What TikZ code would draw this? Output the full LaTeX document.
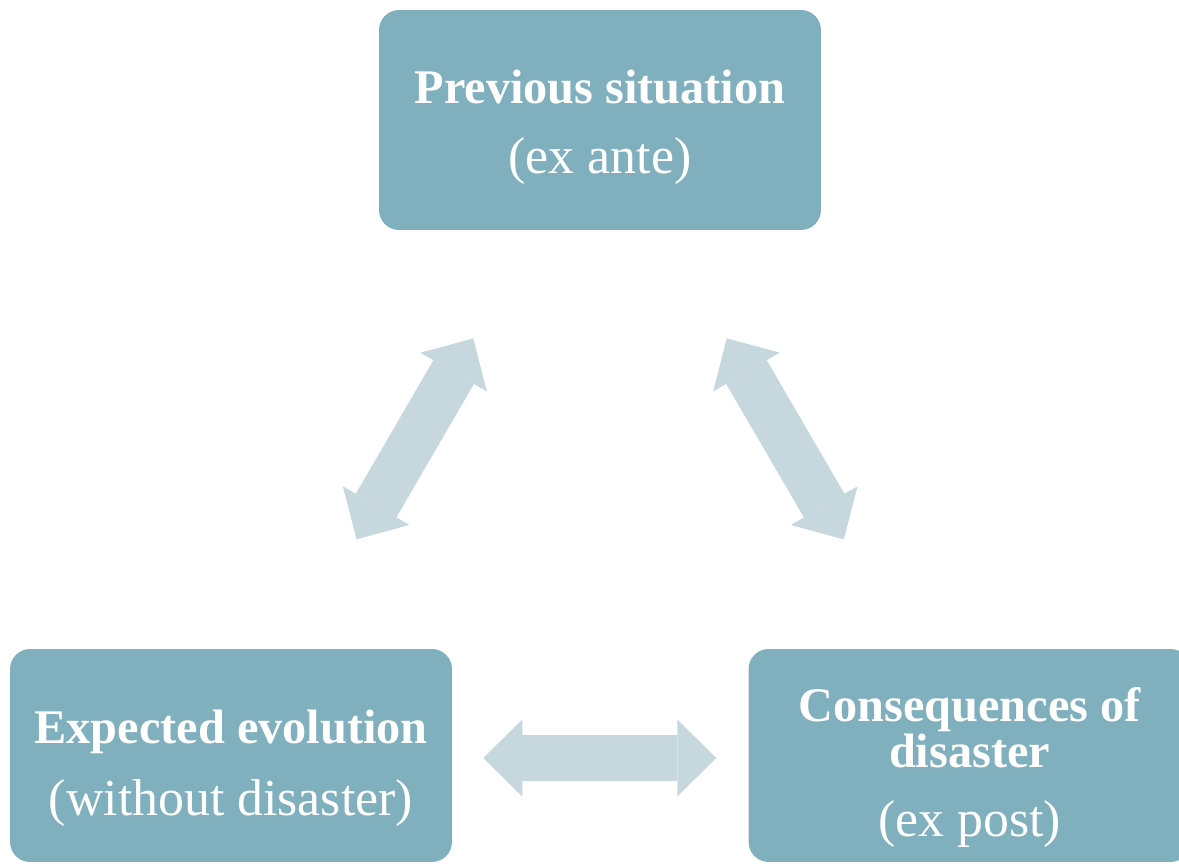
\documentclass[tikz,border=0pt]{standalone}
\usepackage{fontspec}
\setmainfont{Liberation Serif}
\usetikzlibrary{arrows.meta,positioning,calc}
\definecolor{boxblue}{RGB}{128,175,189}
\definecolor{arrowgrey}{RGB}{199,215,222}
\newcommand{\subline}{\fontsize{29.5}{22.5}\selectfont\mdseries}
\newcommand{\lift}[1]{\rule{0pt}{#1}}
\tikzset{
    stage/.style={
        rectangle,
        rounded corners=0.4cm,
        fill=boxblue,
        text=white,
        align=center,
        minimum width=8.84cm,
        inner sep=0pt,
        font=\fontsize{27.5}{22.5}\selectfont\bfseries,
    },
    link/.style={
        draw=arrowgrey,
        line width=0.94cm,
        >={Triangle[length=0.78cm,width=1.54cm,line width=0pt]},
        <->,
    },
}

\begin{document}
\begin{tikzpicture}[x=0.02cm,y=0.02cm]
    \fill[white] (0,0) rectangle (1179,865);
    \useasboundingbox (0,0) rectangle (1179,865);
    % the three situations
    \node[stage, minimum height=4.4cm] (prev) at (600,745) {\lift{27pt}Previous situation\\[17.5pt]{\subline (ex ante)}};
    \node[stage, minimum height=4.26cm] (evol) at (231,109.5) {\lift{34pt}Expected evolution\\[13.5pt]{\subline (without disaster)}};
    \node[stage, minimum height=4.26cm, right=5.92cm of evol] (cons) {\lift{33pt}Consequences of\\disaster\\[17pt]{\subline (ex post)}};
    % comparisons
    \draw[link, shorten <=2.53cm, shorten >=2.50cm] (evol) -- (prev);
    \draw[link, shorten <=2.50cm, shorten >=2.53cm] (prev) -- (cons);
    \draw[link, shorten <=0.62cm, shorten >=0.64cm] ([yshift=-0.05cm]evol.east) -- ([yshift=-0.05cm]cons.west);
\end{tikzpicture}
\end{document}
